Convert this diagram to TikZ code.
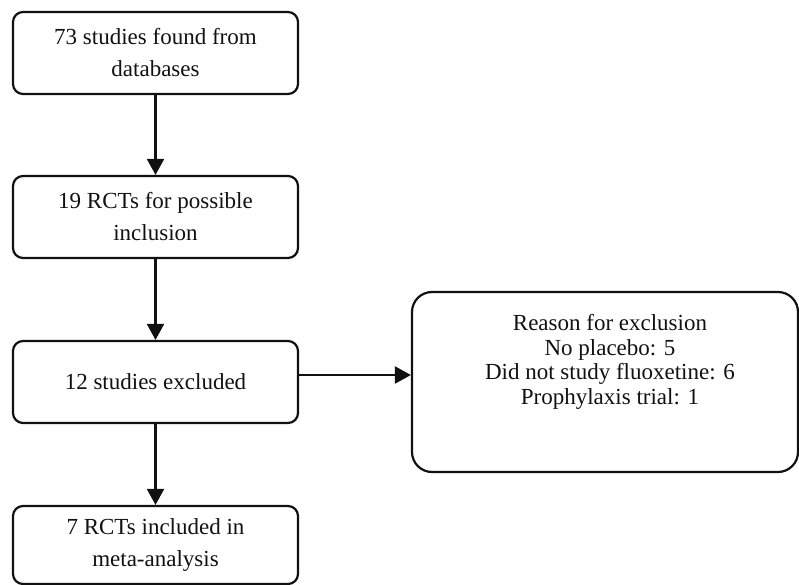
\documentclass[tikz,border=0pt]{standalone}
\usepackage{fontspec}
\setmainfont{Liberation Serif}
\usetikzlibrary{arrows.meta,positioning,calc}
\definecolor{ink}{HTML}{111111}
\tikzset{>={Triangle[length=16pt,width=17pt]},
  stepbox/.style={draw=ink,line width=2.2pt,rounded corners=10pt,minimum width=285pt,
    minimum height=82pt,font=\fontsize{23}{32}\selectfont,text=ink,align=center,inner sep=2pt},
  whybox/.style={draw=ink,line width=2.2pt,rounded corners=20pt,minimum width=386pt,minimum height=180pt},
  whytxt/.style={font=\fontsize{23}{24.7}\selectfont,text=ink,align=center},
  flow/.style={->,draw=ink,line width=2.2pt}}
\begin{document}
\begin{tikzpicture}[x=1pt,y=-1pt]
\useasboundingbox (0,0) rectangle (799,585);
\node[stepbox] (found) at (155.5,53) {73 studies found from\\databases};
\node[stepbox] (rcts) at (155.5,217) {19 RCTs for possible\\inclusion};
\node[stepbox] (excl) at (155.5,382) {12 studies excluded};
\node[stepbox,minimum height=78pt] (incl) at (155.5,545) {7 RCTs included in\\meta-analysis};
\node[whybox] (why) at (605,382) {};
\node[whytxt] (whyt) at (610,362) {Reason for exclusion\\No placebo: 5\\Did not study fluoxetine: 6\\Prophylaxis trial: 1};
\draw[flow] (found.south) -- (rcts.north);
\draw[flow] (rcts.south) -- (excl.north);
\draw[flow] (excl.south) -- (incl.north);
\draw[flow] ([yshift=7pt]excl.east) -- ([yshift=7pt]why.west);
\end{tikzpicture}
\end{document}
